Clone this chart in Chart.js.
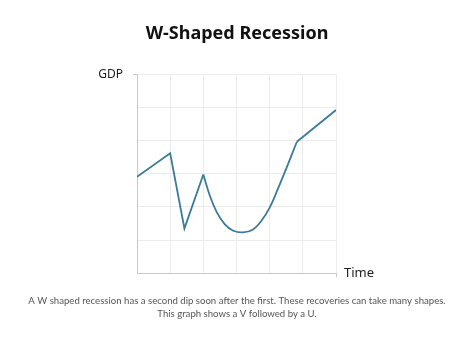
<!DOCTYPE html>
<html>
<head>
<meta charset="utf-8">
<script src="https://cdn.jsdelivr.net/npm/chart.js@4/dist/chart.umd.min.js"></script>
<style>
  html, body {margin: 0; padding: 0; background: #fff;}
  canvas {display: block;}
</style>
</head>
<body>
<canvas id="chart" width="474" height="342"></canvas>
<script>
// values, grid units (0..6 on both axes)
const timeV    = [0, 1, 1.43, 2];
const gdpV     = [2.91, 3.62, 1.35, 2.98];
const timeU    = [2, 2.2, 2.4, 2.65, 2.9, 3.2, 3.5, 3.75, 4.0, 4.25, 4.5, 4.82];
const gdpU     = [2.98, 2.33, 1.85, 1.47, 1.28, 1.23, 1.32, 1.58, 1.98, 2.55, 3.16, 3.97];
const timeEnd  = [4.82, 6];
const gdpEnd   = [3.97, 4.93];
const yLabel   = 'GDP';
const xLabel   = 'Time';
const title    = 'W-Shaped Recession';
const caption  = [
    'A W shaped recession has a second dip soon after the first. These recoveries can take many shapes.',
    'This graph shows a V followed by a U.'
];

const FONT      = '"Noto Sans", "Open Sans", sans-serif';
const LINE      = '#3b7b99';
const GRID      = '#ececec';
const AXIS      = '#c8c8c8';
const NONE      = 'rgba(0,0,0,0)';
const AXIS_MAX  = 6;

const toPoints = (xs, ys) => xs.map((x, i) => ({x, y: ys[i]}));

const lineSet = (xs, ys, tension) => ({
    data       : toPoints(xs, ys),
    borderColor: LINE,
    borderWidth: 1.8,
    pointRadius: 0,
    fill       : false,
    tension
});

// draws the x axis name past the right end of the axis
const xNamePlugin = {
    id: 'xName',
    afterDraw(chart) {
        const s   = chart.scales.x;
        const ctx = chart.ctx;
        ctx.save();
        ctx.font         = `13px ${FONT}`;
        ctx.fillStyle    = '#222';
        ctx.textAlign    = 'left';
        ctx.textBaseline = 'middle';
        ctx.fillText(xLabel, s.right + 8, s.top);
        ctx.restore();
    }
};

new Chart(document.getElementById('chart'), {
    type   : 'line',
    data   : {
        datasets: [
            lineSet(timeV, gdpV, 0),
            lineSet(timeU, gdpU, 0.4),
            lineSet(timeEnd, gdpEnd, 0)
        ]
    },
    options: {
        responsive: false,
        animation : false,
        layout    : {padding: 0},
        plugins   : {
            legend  : {display: false},
            tooltip : {enabled: false},
            title   : {
                display: true,
                text   : title,
                color  : '#111',
                font   : {family: FONT, size: 18, weight: 'bold', lineHeight: 1.2},
                padding: {top: 23, bottom: 30}
            },
            subtitle: {
                display : true,
                position: 'bottom',
                text    : caption,
                color   : '#555',
                font    : {family: 'Lato, "Noto Sans", sans-serif', size: 9.6, lineHeight: 1.35},
                padding : {top: 16, bottom: 22}
            }
        },
        scales: {
            x : {
                type  : 'linear',
                min   : 0,
                max   : AXIS_MAX,
                border: {color: AXIS, width: 1},
                grid  : {
                    color     : GRID,
                    tickLength: 4,
                    tickColor : c => (c.tick && c.tick.value === AXIS_MAX ? AXIS : NONE)
                },
                ticks : {display: false, stepSize: 1},
                afterFit: s => {s.height = 5}
            },
            y : {
                min   : 0,
                max   : AXIS_MAX,
                border: {color: AXIS, width: 1},
                grid  : {
                    color     : GRID,
                    tickLength: 4,
                    tickColor : c => (c.tick && c.tick.value === AXIS_MAX ? AXIS : NONE)
                },
                ticks : {
                    stepSize: 1,
                    padding : 10,
                    color   : '#222',
                    font    : {family: FONT, size: 12},
                    callback: v => (v === AXIS_MAX ? yLabel : '')
                },
                afterFit: s => {s.width = 137}
            },
            yR: {
                position: 'right',
                display : true,
                grid    : {display: false, drawTicks: false},
                border  : {display: false},
                ticks   : {display: false},
                afterFit: s => {s.width = 138}
            }
        }
    },
    plugins: [xNamePlugin]
});
</script>
</body>
</html>
